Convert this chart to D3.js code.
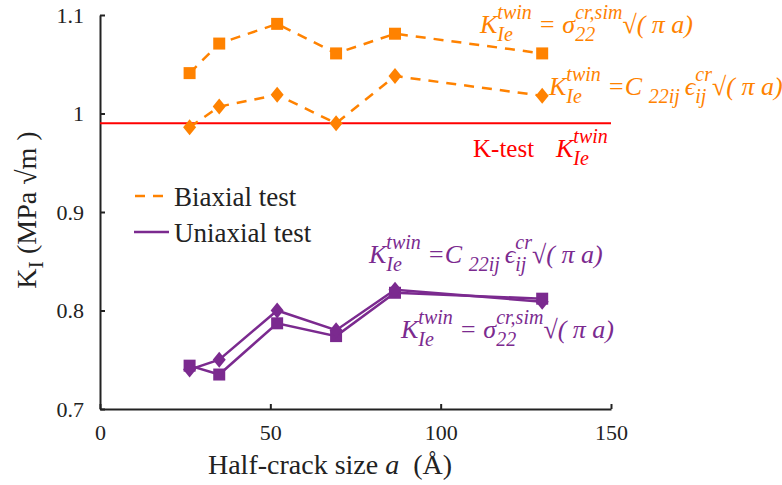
<!DOCTYPE html>
<html>
<head>
<meta charset="utf-8">
<script src="https://cdn.jsdelivr.net/npm/d3@7"></script>
<style>
  html, body { margin: 0; padding: 0; background: #fff; }
</style>
</head>
<body>
<svg id="chart" width="782" height="485"></svg>
<script>
// Half-crack size a (Å)
const crackSize = [26.3, 35, 52, 69.3, 86.6, 129.8];

// Biaxial test
const biaxSigma = [1.041, 1.071, 1.091, 1.061, 1.081, 1.061];
const biaxStrain = [0.986, 1.007, 1.019, 0.990, 1.038, 1.018];

// Uniaxial test
const uniaxSigma = [0.744, 0.735, 0.787, 0.774, 0.818, 0.812];
const uniaxStrain = [0.740, 0.750, 0.800, 0.780, 0.821, 0.809];

// K-test reference level
const kTest = 0.99;

const xTicks = [0, 50, 100, 150];
const yTicks = [0.7, 0.8, 0.9, 1, 1.1];

const ORANGE = "#ff8200";
const PURPLE = "#7b2a8f";
const RED = "#ff0000";
const AXIS = "#222";
const FONT = "Liberation Serif";

const svg = d3.select("#chart").attr("font-family", FONT);
const x = d3.scaleLinear().domain([0, 150]).range([100, 611]);
const y = d3.scaleLinear().domain([0.7, 1.1]).range([409, 15]);

// axes
const xAxis = svg.append("g")
  .attr("transform", `translate(0,${y(0.7)})`)
  .call(d3.axisBottom(x).tickValues(xTicks).tickSizeInner(-5).tickSizeOuter(0).tickPadding(15).tickFormat(d3.format("~g")));
const yAxis = svg.append("g")
  .attr("transform", `translate(${x(0)},0)`)
  .call(d3.axisLeft(y).tickValues(yTicks).tickSizeInner(-5).tickSizeOuter(0).tickPadding(16).tickFormat(d3.format("~g")));
[xAxis, yAxis].forEach(g => {
  g.attr("font-family", FONT);
  g.select(".domain").attr("stroke", AXIS).attr("stroke-width", 2);
  g.selectAll(".tick line").attr("stroke", AXIS).attr("stroke-width", 2);
  g.selectAll(".tick text").attr("fill", AXIS).attr("font-size", 22).attr("font-family", FONT);
});

// axis titles
const xt = svg.append("text").attr("x", 330).attr("y", 474).attr("text-anchor", "middle")
  .attr("font-size", 28).attr("fill", AXIS).attr("font-family", FONT)
  .attr("xml:space", "preserve");
xt.append("tspan").text("Half-crack size ");
xt.append("tspan").attr("font-style", "italic").text("a");
xt.append("tspan").text("  (Å)");

const yt = svg.append("text").attr("transform", "translate(36,210) rotate(-90)")
  .attr("text-anchor", "middle").attr("font-size", 28).attr("fill", AXIS).attr("font-family", FONT);
yt.append("tspan").text("K");
yt.append("tspan").attr("font-size", 22).attr("dy", 7).text("I");
yt.append("tspan").attr("dy", -7).text(" (MPa √m )");

// K-test line
svg.append("line")
  .attr("x1", x(0)).attr("x2", x(150))
  .attr("y1", y(kTest)).attr("y2", y(kTest))
  .attr("stroke", RED).attr("stroke-width", 2);

const line = d3.line().x((d, i) => x(crackSize[i])).y(d => y(d));

function drawSeries(values, color, dashed, shape) {
  const g = svg.append("g");
  g.append("path").datum(values)
    .attr("d", line)
    .attr("fill", "none")
    .attr("stroke", color)
    .attr("stroke-width", 2.5)
    .attr("stroke-dasharray", dashed ? "10,8" : null);
  g.selectAll("path.m").data(values).join("path")
    .attr("class", "m")
    .attr("fill", color)
    .attr("d", (d, i) => {
      const cx = x(crackSize[i]), cy = y(d);
      if (shape === "square") {
        const h = 6;
        return `M${cx - h},${cy - h}h${2 * h}v${2 * h}h${-2 * h}Z`;
      }
      const w = 6.5, hh = 8;
      return `M${cx},${cy - hh}L${cx + w},${cy}L${cx},${cy + hh}L${cx - w},${cy}Z`;
    });
}

drawSeries(biaxSigma, ORANGE, true, "square");
drawSeries(biaxStrain, ORANGE, true, "diamond");
drawSeries(uniaxSigma, PURPLE, false, "square");
drawSeries(uniaxStrain, PURPLE, false, "diamond");

// legend
const legend = svg.append("g").attr("font-family", FONT);
legend.append("line").attr("x1", 135).attr("x2", 163).attr("y1", 196).attr("y2", 196)
  .attr("stroke", ORANGE).attr("stroke-width", 2.5).attr("stroke-dasharray", "10,8");
legend.append("text").attr("x", 174).attr("y", 206).attr("font-size", 27).attr("fill", AXIS).text("Biaxial test");
legend.append("line").attr("x1", 134).attr("x2", 169).attr("y1", 232).attr("y2", 232)
  .attr("stroke", PURPLE).attr("stroke-width", 2.5);
legend.append("text").attr("x", 174).attr("y", 242).attr("font-size", 27).attr("fill", AXIS).text("Uniaxial test");

// formula labels: runs of text with stacked super/subscripts
function formula(x0, base, color, parts) {
  const g = svg.append("g").attr("fill", color).attr("font-style", "italic").attr("font-family", FONT);
  let cx = x0;
  parts.forEach(p => {
    if (p.t !== undefined) {
      const t = g.append("text").attr("x", cx).attr("y", base + (p.dy || 0))
        .attr("font-size", p.size || 26)
        .attr("xml:space", "preserve")
        .text(p.t);
      cx += t.node().getComputedTextLength();
    } else {
      let w = 0;
      if (p.sup) {
        const t = g.append("text").attr("x", cx).attr("y", base - 14).attr("font-size", 20).text(p.sup);
        w = Math.max(w, t.node().getComputedTextLength());
      }
      if (p.sub) {
        const t = g.append("text").attr("x", cx).attr("y", base + 8).attr("font-size", 20).text(p.sub);
        w = Math.max(w, t.node().getComputedTextLength());
      }
      cx += w;
    }
  });
}

const sigmaParts = [
  { t: "K" }, { sup: "twin", sub: "Ie" },
  { t: " = σ" }, { sup: "cr,sim", sub: "22" },
  { t: "√( π a)" }
];
const strainParts = [
  { t: "K" }, { sup: "twin", sub: "Ie" },
  { t: " =C " }, { t: "22ij ", size: 20, dy: 8 },
  { t: "ϵ" }, { sup: "cr", sub: "ij" },
  { t: "√( π a)" }
];

formula(480, 33, ORANGE, sigmaParts);
formula(549, 95, ORANGE, strainParts);
formula(369, 263, PURPLE, strainParts);
formula(401, 338, PURPLE, sigmaParts);

// K-test label
svg.append("text").attr("x", 473).attr("y", 157).attr("font-size", 25)
  .attr("fill", RED).attr("font-family", FONT).text("K-test");
formula(556, 157, RED, [{ t: "K" }, { sup: "twin", sub: "Ie" }]);
</script>
</body>
</html>
